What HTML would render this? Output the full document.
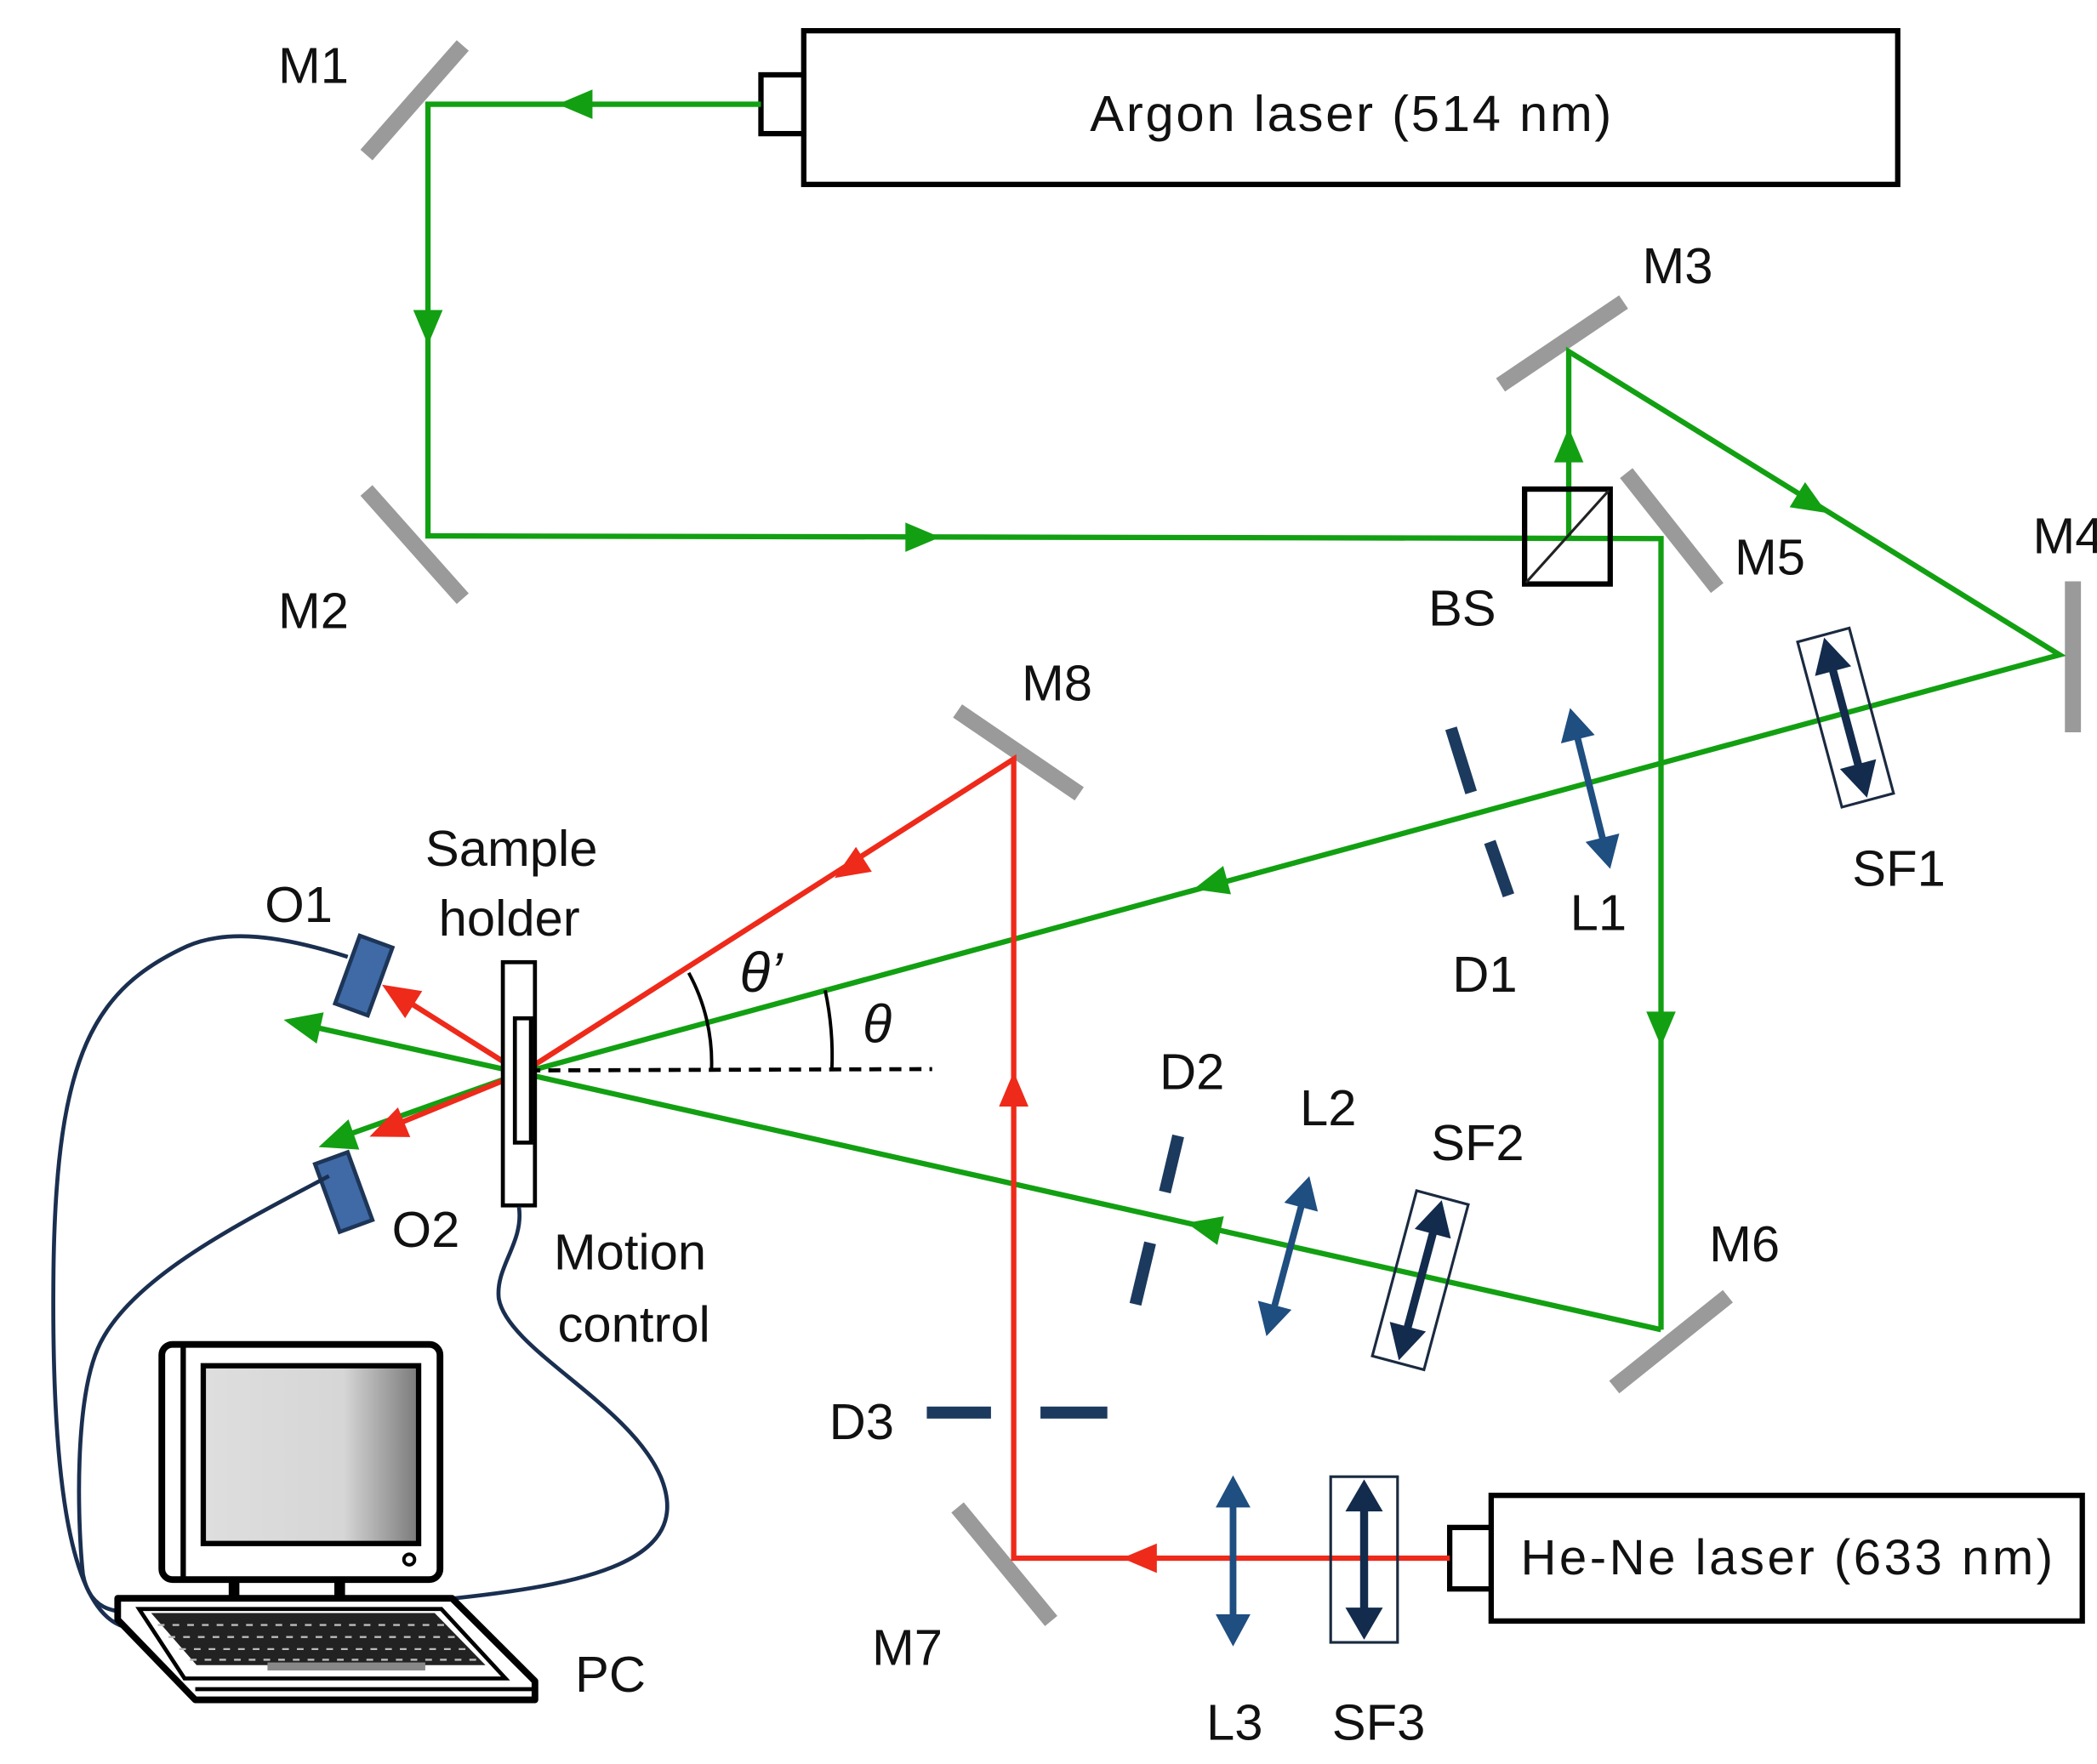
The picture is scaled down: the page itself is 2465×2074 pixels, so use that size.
<!DOCTYPE html>
<html><head><meta charset="utf-8"><style>
html,body{margin:0;padding:0;background:#fff;}
svg{display:block;}
text{font-family:"Liberation Sans",sans-serif;fill:#111;}
</style></head><body>
<svg width="2465" height="2074" viewBox="0 0 1568 1320" preserveAspectRatio="none" xmlns="http://www.w3.org/2000/svg">
<defs>
<linearGradient id="scr" x1="0" x2="1" y1="0" y2="0">
<stop offset="0" stop-color="#dedede"/><stop offset="0.65" stop-color="#d6d6d6"/><stop offset="1" stop-color="#7a7a7a"/>
</linearGradient>
</defs>
<rect width="1568" height="1320" fill="#fff"/>

<!-- lasers -->
<rect x="601" y="23" width="818" height="115" fill="#fff" stroke="#000" stroke-width="4"/>
<rect x="569" y="56" width="32" height="44" fill="#fff" stroke="#000" stroke-width="4"/>
<text x="815" y="98" font-size="38" textLength="390">Argon laser (514 nm)</text>
<rect x="1115" y="1119" width="442" height="94" fill="#fff" stroke="#000" stroke-width="4"/>
<rect x="1084" y="1143" width="31" height="46" fill="#fff" stroke="#000" stroke-width="4"/>
<text x="1137" y="1178" font-size="37" textLength="398">He-Ne laser (633 nm)</text>

<!-- mirrors -->
<g stroke="#9a9a9a" stroke-width="12">
<line x1="274" y1="116" x2="346" y2="34"/>
<line x1="274" y1="367" x2="346" y2="448"/>
<line x1="1122" y1="288" x2="1214" y2="226"/>
<line x1="1216" y1="354" x2="1284" y2="440"/>
<line x1="1550" y1="435" x2="1550" y2="548"/>
<line x1="1207" y1="1038" x2="1292" y2="970"/>
<line x1="716" y1="1128" x2="786" y2="1213"/>
<line x1="716" y1="532" x2="807" y2="594"/>
</g>

<!-- green beams -->
<g stroke="#12a012" stroke-width="4" fill="none">
<polyline points="569,78 320,78 320,401 1242,403 1242,995"/>
<polyline points="1173,403 1173,263 1540,490 390,803"/>
<line x1="1242" y1="995" x2="390" y2="803"/>
<line x1="390" y1="803" x2="228" y2="767"/>
<line x1="390" y1="803" x2="252" y2="852"/>
</g>
<g fill="#12a012">
<polygon points="-13,-11 13,0 -13,11" transform="translate(430,78) rotate(180)"/>
<polygon points="-13,-11 13,0 -13,11" transform="translate(320,245) rotate(90)"/>
<polygon points="-13,-11 13,0 -13,11" transform="translate(690,402) rotate(0)"/>
<polygon points="-13,-11 13,0 -13,11" transform="translate(1173,333) rotate(-90)"/>
<polygon points="-13,-11 13,0 -13,11" transform="translate(1355,377) rotate(31.7)"/>
<polygon points="-13,-11 13,0 -13,11" transform="translate(1242,770) rotate(90)"/>
<polygon points="-13,-11 13,0 -13,11" transform="translate(905,662) rotate(164.8)"/>
<polygon points="-13,-11 13,0 -13,11" transform="translate(900,918) rotate(192.7)"/>
<polygon points="-24,-12 4,0 -24,12" transform="translate(216,764) rotate(192.6)"/>
<polygon points="-24,-12 4,0 -24,12" transform="translate(242,857) rotate(160.3)"/>
</g>

<!-- red beams -->
<g stroke="#ee2a1a" stroke-width="4" fill="none">
<polyline points="1084,1166 758,1166 758,568 390,803"/>
<line x1="390" y1="803" x2="298" y2="745"/>
<line x1="390" y1="803" x2="290" y2="844"/>
</g>
<g fill="#ee2a1a">
<polygon points="-13,-11 13,0 -13,11" transform="translate(852,1166) rotate(180)"/>
<polygon points="-13,-11 13,0 -13,11" transform="translate(758,815) rotate(-90)"/>
<polygon points="-13,-11 13,0 -13,11" transform="translate(635,650) rotate(147.4)"/>
<polygon points="-24,-12 4,0 -24,12" transform="translate(289,739) rotate(212.2)"/>
<polygon points="-24,-12 4,0 -24,12" transform="translate(280,849) rotate(157.4)"/>
</g>

<!-- BS -->
<rect x="1140" y="366" width="64" height="71" fill="none" stroke="#000" stroke-width="4"/>
<line x1="1141" y1="436" x2="1203" y2="367" stroke="#222" stroke-width="2"/>

<!-- dashed reference and angles -->
<line x1="395" y1="801" x2="697" y2="800" stroke="#000" stroke-width="3" stroke-dasharray="9,6"/>
<path d="M 515 728 A 140 140 0 0 1 532 801" fill="none" stroke="#000" stroke-width="2.5"/>
<path d="M 617 741 A 235 235 0 0 1 622 801" fill="none" stroke="#000" stroke-width="2.5"/>
<text x="553" y="742" font-size="42" font-style="italic" font-family="Liberation Serif, serif">θ’</text>
<text x="645" y="780" font-size="40" font-style="italic" font-family="Liberation Serif, serif">θ</text>

<!-- sample holder -->
<rect x="376" y="720" width="24" height="182" fill="#fff" stroke="#000" stroke-width="3"/>
<rect x="385" y="762" width="12" height="93" fill="#fff" stroke="#000" stroke-width="3"/>

<!-- O1 O2 -->
<rect x="-13" y="-27" width="26" height="54" fill="#3f6aa6" stroke="#1d3557" stroke-width="3" transform="translate(272,730) rotate(20)"/>
<rect x="-13" y="-27" width="26" height="54" fill="#3f6aa6" stroke="#1d3557" stroke-width="3" transform="translate(257,892) rotate(-20)"/>

<!-- cables -->
<g stroke="#1a2f50" stroke-width="3" fill="none">
<path d="M 260 716 C 210 700 170 695 140 708 C 70 740 42 790 40 950 C 38 1120 55 1205 92 1217"/>
<path d="M 246 880 C 180 915 100 955 75 1005 C 55 1045 58 1140 62 1178 C 66 1200 80 1206 94 1206"/>
<path d="M 388 903 C 392 930 370 948 373 972 C 380 1010 470 1050 494 1105 C 520 1168 440 1186 330 1197"/>
</g>

<!-- optics: diaphragms -->
<g stroke="#1c3a5e" stroke-width="9">
<line x1="1085" y1="545" x2="1100" y2="593"/>
<line x1="1114" y1="630" x2="1128" y2="670"/>
<line x1="881" y1="850" x2="871" y2="892"/>
<line x1="860" y1="930" x2="849" y2="976"/>
<line x1="693" y1="1057" x2="741" y2="1057"/>
<line x1="778" y1="1057" x2="828" y2="1057"/>
</g>

<!-- lenses -->
<g stroke="#1f4e80" stroke-width="5" fill="#1f4e80">
<g transform="translate(1189,590) rotate(-14)">
<line x1="0" y1="-46" x2="0" y2="46"/>
<polygon points="0,-62 -13,-38 13,-38" stroke="none"/><polygon points="0,62 -13,38 13,38" stroke="none"/>
</g>
<g transform="translate(963,940) rotate(15)">
<line x1="0" y1="-46" x2="0" y2="46"/>
<polygon points="0,-62 -13,-38 13,-38" stroke="none"/><polygon points="0,62 -13,38 13,38" stroke="none"/>
</g>
<g transform="translate(922,1168)">
<line x1="0" y1="-48" x2="0" y2="48"/>
<polygon points="0,-64 -13,-40 13,-40" stroke="none"/><polygon points="0,64 -13,40 13,40" stroke="none"/>
</g>
</g>

<!-- spatial filters -->
<g>
<g transform="translate(1380,537) rotate(-15)">
<rect x="-20" y="-64" width="40" height="128" fill="none" stroke="#1a2a40" stroke-width="2"/>
<line x1="0" y1="-45" x2="0" y2="45" stroke="#132b4c" stroke-width="6"/>
<polygon points="0,-62 -14,-36 14,-36" fill="#132b4c"/><polygon points="0,62 -14,36 14,36" fill="#132b4c"/>
</g>
<g transform="translate(1062,958) rotate(15)">
<rect x="-20" y="-64" width="40" height="128" fill="none" stroke="#1a2a40" stroke-width="2"/>
<line x1="0" y1="-45" x2="0" y2="45" stroke="#132b4c" stroke-width="6"/>
<polygon points="0,-62 -14,-36 14,-36" fill="#132b4c"/><polygon points="0,62 -14,36 14,36" fill="#132b4c"/>
</g>
<g transform="translate(1020,1167)">
<rect x="-25" y="-62" width="50" height="124" fill="none" stroke="#1a2a40" stroke-width="2"/>
<line x1="0" y1="-45" x2="0" y2="45" stroke="#132b4c" stroke-width="6"/>
<polygon points="0,-60 -14,-36 14,-36" fill="#132b4c"/><polygon points="0,60 -14,36 14,36" fill="#132b4c"/>
</g>
</g>

<!-- computer -->
<g>
<rect x="121" y="1006" width="208" height="176" rx="8" fill="#fff" stroke="#000" stroke-width="5"/>
<line x1="137" y1="1008" x2="137" y2="1180" stroke="#000" stroke-width="4"/>
<rect x="152" y="1022" width="161" height="133" fill="url(#scr)" stroke="#000" stroke-width="4"/>
<circle cx="306" cy="1167" r="4" fill="#fff" stroke="#000" stroke-width="2.5"/>
<rect x="171" y="1182" width="8" height="14" fill="#000"/>
<rect x="250" y="1182" width="8" height="14" fill="#000"/>
<polygon points="88,1196 338,1196 400,1258 400,1272 146,1272 88,1212" fill="#fff" stroke="#000" stroke-width="5" stroke-linejoin="round"/>
<polygon points="104,1204 330,1204 378,1256 138,1256" fill="#fff" stroke="#000" stroke-width="3"/>
<polygon points="113,1207 325,1207 363,1246 147,1246" fill="#222"/>
<g stroke="#bbb" stroke-width="1.5">
<line x1="118" y1="1216" x2="335" y2="1216" stroke-dasharray="5,6"/>
<line x1="126" y1="1225" x2="344" y2="1225" stroke-dasharray="5,6"/>
<line x1="134" y1="1234" x2="352" y2="1234" stroke-dasharray="5,6"/>
<line x1="142" y1="1242" x2="360" y2="1242" stroke-dasharray="5,6"/>
</g>
<rect x="200" y="1244" width="118" height="6" fill="#888"/>
<line x1="146" y1="1264" x2="398" y2="1264" stroke="#000" stroke-width="3"/>
</g>

<!-- labels -->
<g font-size="38">
<text x="208" y="62">M1</text>
<text x="208" y="470">M2</text>
<text x="1228" y="212">M3</text>
<text x="1520" y="414">M4</text>
<text x="1297" y="430">M5</text>
<text x="1068" y="468">BS</text>
<text x="764" y="524">M8</text>
<text x="1385" y="663">SF1</text>
<text x="1174" y="696">L1</text>
<text x="1086" y="742">D1</text>
<text x="318" y="648">Sample</text>
<text x="328" y="700">holder</text>
<text x="198" y="690">O1</text>
<text x="867" y="815">D2</text>
<text x="972" y="842">L2</text>
<text x="1070" y="868">SF2</text>
<text x="1278" y="944">M6</text>
<text x="293" y="933">O2</text>
<text x="414" y="950">Motion</text>
<text x="417" y="1004">control</text>
<text x="620" y="1077">D3</text>
<text x="652" y="1246">M7</text>
<text x="902" y="1302">L3</text>
<text x="996" y="1302">SF3</text>
<text x="430" y="1266">PC</text>
</g>
</svg>
</body></html>
